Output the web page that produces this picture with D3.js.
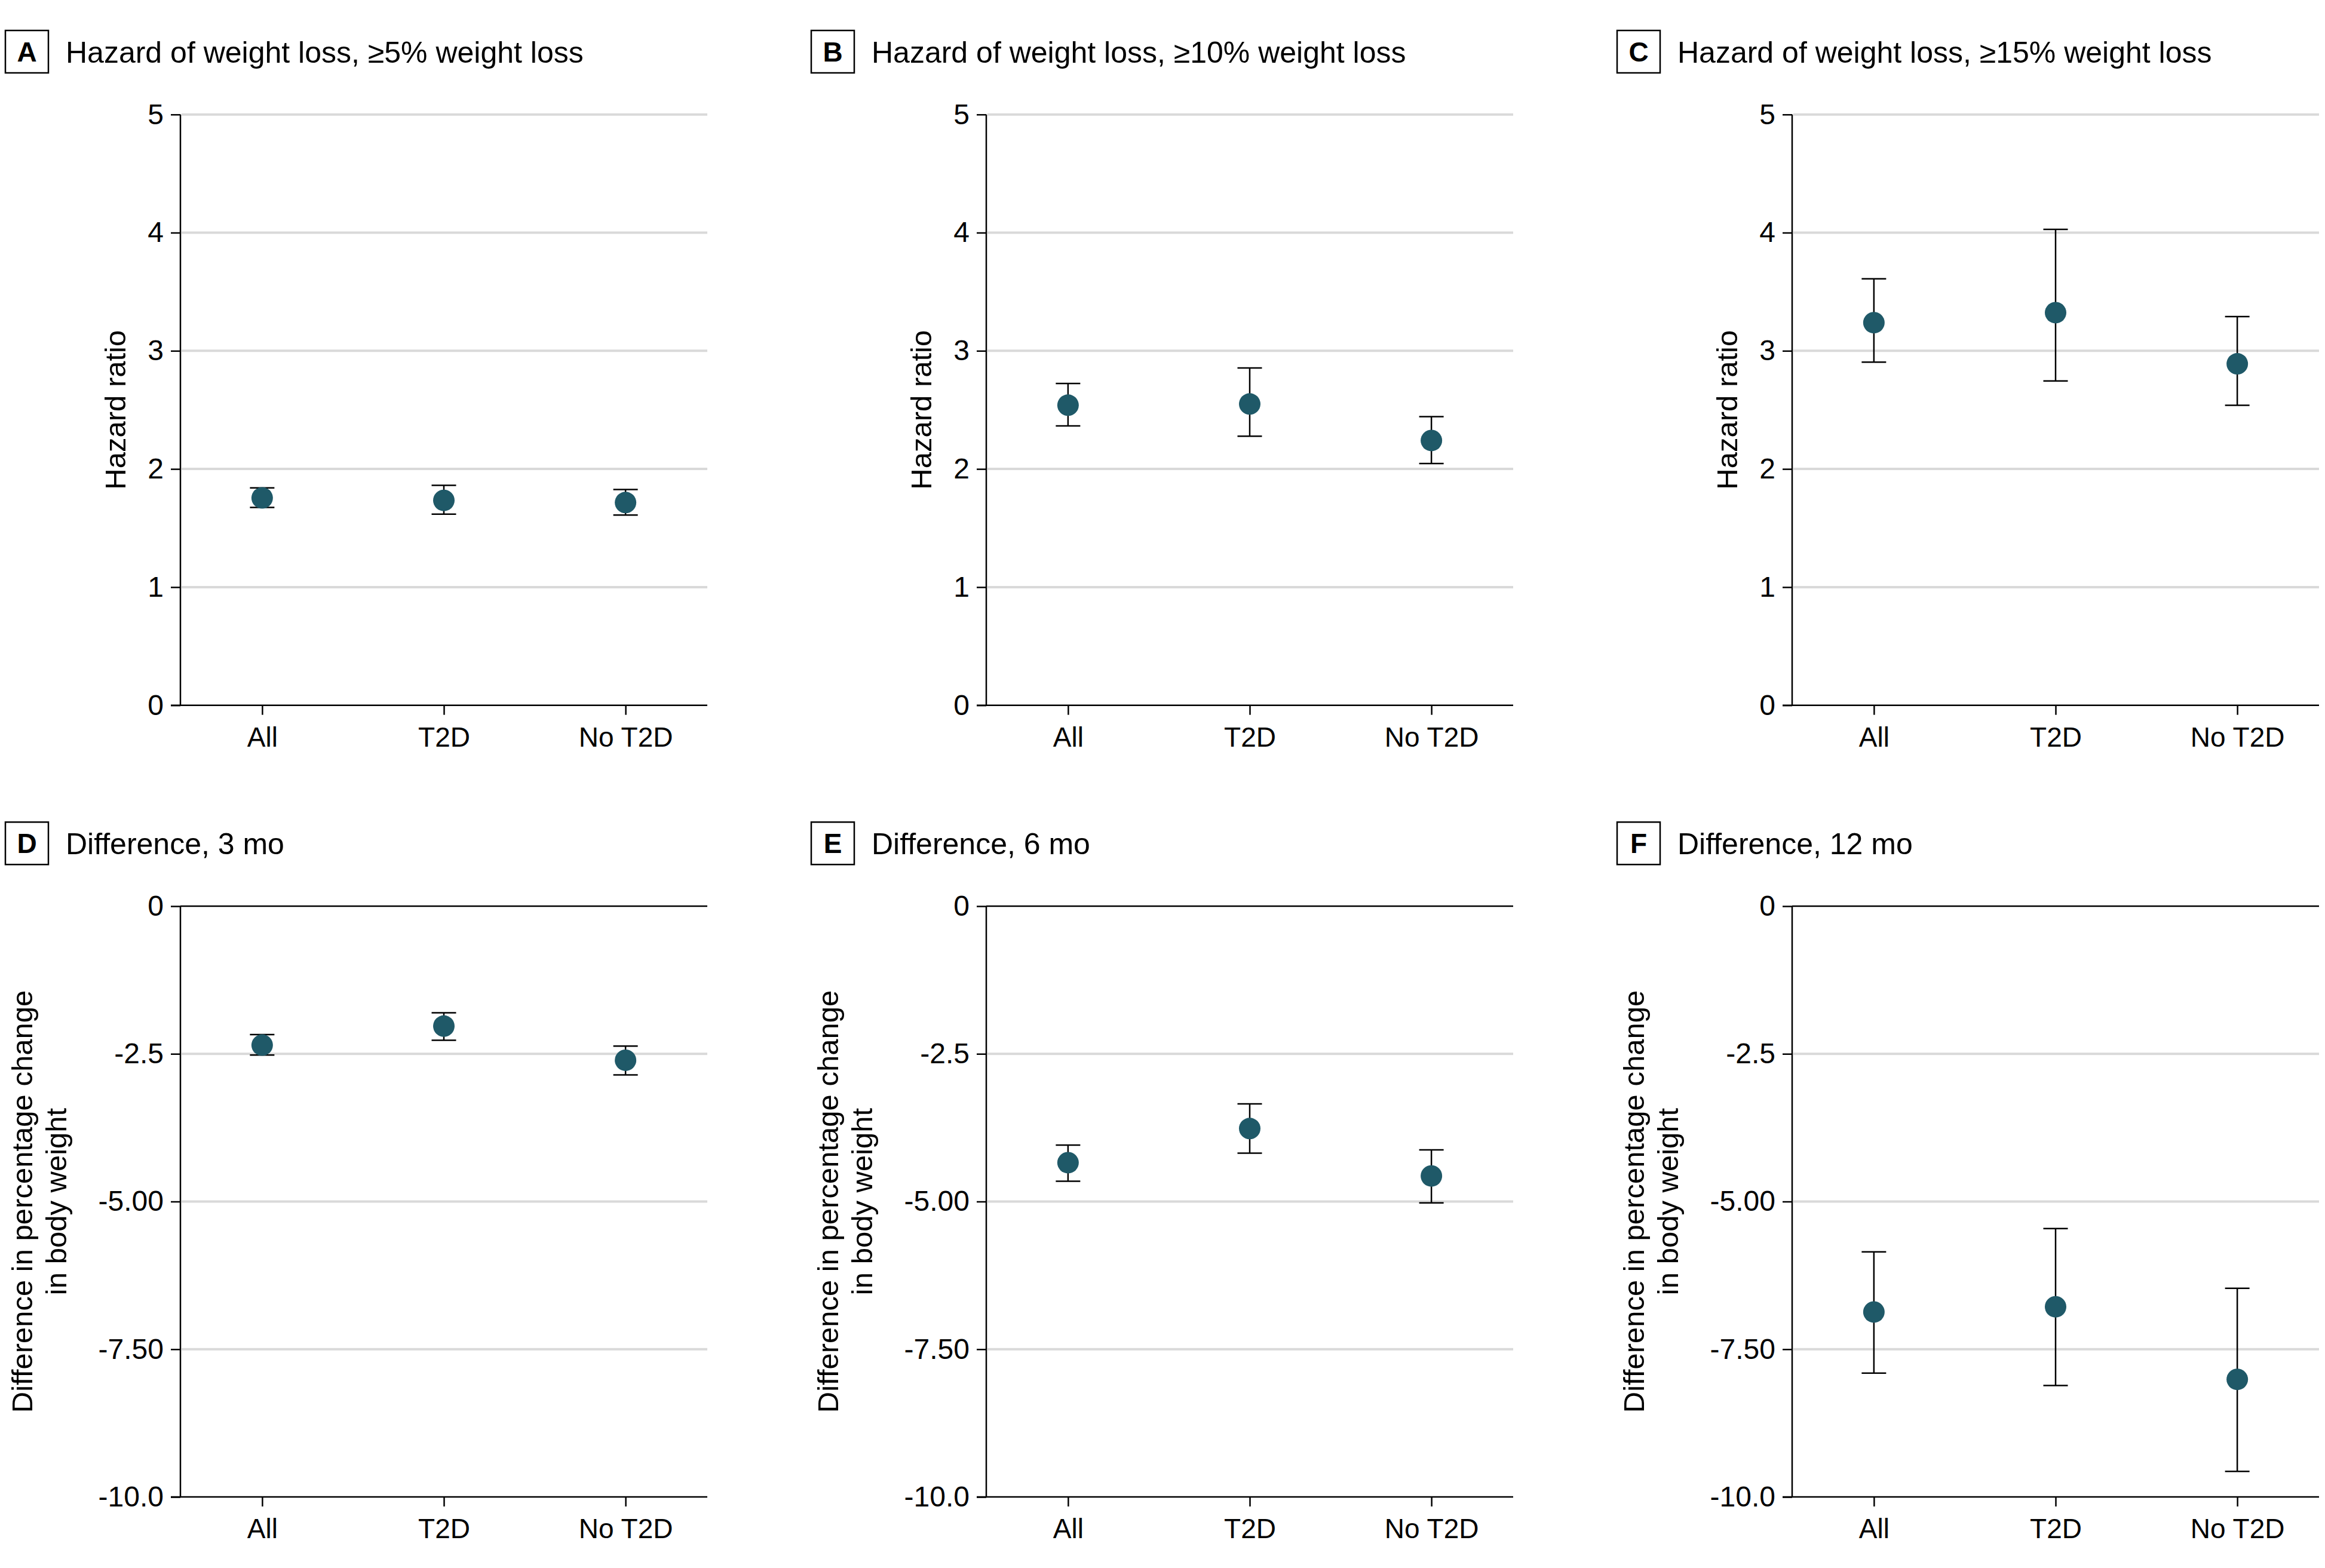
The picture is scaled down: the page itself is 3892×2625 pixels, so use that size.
<!DOCTYPE html>
<html>
<head>
<meta charset="utf-8">
<script src="https://cdn.jsdelivr.net/npm/d3@7"></script>
<style>
  html, body { margin: 0; padding: 0; background: #ffffff; }
  svg { display: block; }
  text { font-family: "Liberation Sans", Arial, sans-serif; fill: #000; }
</style>
</head>
<body>
<script>
// ---------------- data ----------------
const categories = ["All", "T2D", "No T2D"];

const panelLetters = ["A", "B", "C", "D", "E", "F"];
const panelTitles = [
  "Hazard of weight loss, \u22655% weight loss",
  "Hazard of weight loss, \u226510% weight loss",
  "Hazard of weight loss, \u226515% weight loss",
  "Difference, 3 mo",
  "Difference, 6 mo",
  "Difference, 12 mo"
];

// Hazard ratios (top row)
const estA = [1.755, 1.734, 1.716];
const lowA = [1.674, 1.617, 1.610];
const highA = [1.840, 1.862, 1.826];

const estB = [2.540, 2.550, 2.241];
const lowB = [2.365, 2.277, 2.046];
const highB = [2.723, 2.855, 2.443];

const estC = [3.238, 3.323, 2.890];
const lowC = [2.904, 2.745, 2.539];
const highC = [3.610, 4.028, 3.290];

// Differences in % change in body weight (bottom row)
const estD = [-2.352, -2.030, -2.608];
const lowD = [-2.520, -2.271, -2.857];
const highD = [-2.175, -1.806, -2.368];

const estE = [-4.342, -3.764, -4.567];
const lowE = [-4.655, -4.181, -5.024];
const highE = [-4.045, -3.347, -4.125];

const estF = [-6.870, -6.782, -8.010];
const lowF = [-7.905, -8.114, -9.567];
const highF = [-5.851, -5.457, -6.469];

// axes
const hrDomain = [0, 5];
const hrTickValues = [0, 1, 2, 3, 4, 5];
const hrTickLabels = ["0", "1", "2", "3", "4", "5"];
const hrAxisTitle = ["Hazard ratio"];

const diffDomain = [-10, 0];
const diffTickValues = [0, -2.5, -5, -7.5, -10];
const diffTickLabels = ["0", "-2.5", "-5.00", "-7.50", "-10.0"];
const diffAxisTitle = ["Difference in percentage change", "in body weight"];

// ---------------- layout ----------------
const W = 3892, H = 2625;
const colX = [302, 1651, 3000];     // y-axis x positions
const rowY = [191.7, 1517];         // top of plot areas
const plotW = 882, plotH = 989;
const pointColor = "#1f5968";
const gridColor = "#d9d9d9";

const svg = d3.select("body").append("svg")
  .attr("width", W).attr("height", H)
  .attr("viewBox", `0 0 ${W} ${H}`);

const panels = [
  {est: estA, low: lowA, high: highA, row: 0},
  {est: estB, low: lowB, high: highB, row: 0},
  {est: estC, low: lowC, high: highC, row: 0},
  {est: estD, low: lowD, high: highD, row: 1},
  {est: estE, low: lowE, high: highE, row: 1},
  {est: estF, low: lowF, high: highF, row: 1}
];

panels.forEach((p, i) => {
  const col = i % 3;
  const isHR = p.row === 0;
  const ox = colX[col], oy = rowY[p.row];
  const g = svg.append("g").attr("transform", `translate(${ox},${oy})`);

  const x = d3.scalePoint().domain(categories).range([0, plotW]).padding(0.45);
  const y = d3.scaleLinear().domain(isHR ? hrDomain : diffDomain).range([plotH, 0]);
  const tickVals = isHR ? hrTickValues : diffTickValues;
  const tickLabs = isHR ? hrTickLabels : diffTickLabels;

  // panel header: letter box + title
  const hdr = svg.append("g").attr("transform", `translate(${ox - 302},${oy - 191.7})`);
  hdr.append("rect").attr("x", 9).attr("y", 51).attr("width", 72).attr("height", 71)
    .attr("fill", "none").attr("stroke", "#000").attr("stroke-width", 2.5);
  hdr.append("text").attr("x", 45).attr("y", 103).attr("text-anchor", "middle")
    .style("font-size", "46px").style("font-weight", "bold").text(panelLetters[i]);
  hdr.append("text").attr("x", 110).attr("y", 105)
    .style("font-size", "50px").text(panelTitles[i]);

  // gridlines
  g.append("g").selectAll("line")
    .data(tickVals.filter(v => v !== 0 && v !== (isHR ? 0 : -10)))
    .join("line")
    .attr("x1", 2).attr("x2", plotW)
    .attr("y1", d => y(d)).attr("y2", d => y(d))
    .attr("stroke", gridColor).attr("stroke-width", 4);

  // zero reference line (black) for difference panels
  if (!isHR) {
    g.append("line").attr("x1", 0).attr("x2", plotW)
      .attr("y1", y(0)).attr("y2", y(0))
      .attr("stroke", "#000").attr("stroke-width", 2.5);
  }

  // y axis
  const yAxis = d3.axisLeft(y).tickValues(tickVals)
    .tickFormat((d, k) => tickLabs[k]).tickSize(16).tickPadding(12);
  const ya = g.append("g").call(yAxis);
  ya.select(".domain").attr("d", `M0,0V${plotH}`).attr("stroke", "#000").attr("stroke-width", 2.5);
  ya.selectAll(".tick line").attr("stroke", "#000").attr("stroke-width", 2.5);
  ya.selectAll(".tick text").style("font-size", "48px")
    .style("font-family", '"Liberation Sans", Arial, sans-serif').attr("fill", "#000");

  // x axis
  const xAxis = d3.axisBottom(x).tickSize(16).tickPadding(0);
  const xa = g.append("g").attr("transform", `translate(0,${plotH})`).call(xAxis);
  xa.select(".domain").attr("d", `M-16,0H${plotW}`).attr("stroke", "#000").attr("stroke-width", 2.5);
  xa.selectAll(".tick line").attr("stroke", "#000").attr("stroke-width", 2.5);
  xa.selectAll(".tick text").attr("y", 69).attr("dy", null)
    .style("font-size", "46px")
    .style("font-family", '"Liberation Sans", Arial, sans-serif').attr("fill", "#000");

  // y axis title
  const titleLines = isHR ? hrAxisTitle : diffAxisTitle;
  const baseX = isHR ? -92 : -248;
  titleLines.forEach((t, k) => {
    g.append("text")
      .attr("transform", `translate(${baseX + k * 57},${plotH / 2}) rotate(-90)`)
      .attr("text-anchor", "middle")
      .style("font-size", "49px")
      .text(t);
  });

  // error bars
  const idx = d3.range(categories.length);
  const capHalf = 20.5;
  const eb = g.append("g");
  eb.selectAll("line.v").data(idx).join("line")
    .attr("x1", k => x(categories[k])).attr("x2", k => x(categories[k]))
    .attr("y1", k => y(p.low[k])).attr("y2", k => y(p.high[k]))
    .attr("stroke", "#000").attr("stroke-width", 2.5);
  eb.selectAll("line.lo").data(idx).join("line")
    .attr("x1", k => x(categories[k]) - capHalf).attr("x2", k => x(categories[k]) + capHalf)
    .attr("y1", k => y(p.low[k])).attr("y2", k => y(p.low[k]))
    .attr("stroke", "#000").attr("stroke-width", 2.5);
  eb.selectAll("line.hi").data(idx).join("line")
    .attr("x1", k => x(categories[k]) - capHalf).attr("x2", k => x(categories[k]) + capHalf)
    .attr("y1", k => y(p.high[k])).attr("y2", k => y(p.high[k]))
    .attr("stroke", "#000").attr("stroke-width", 2.5);

  // points
  g.append("g").selectAll("circle").data(idx).join("circle")
    .attr("cx", k => x(categories[k])).attr("cy", k => y(p.est[k]))
    .attr("r", 18).attr("fill", pointColor);
});
</script>
</body>
</html>
